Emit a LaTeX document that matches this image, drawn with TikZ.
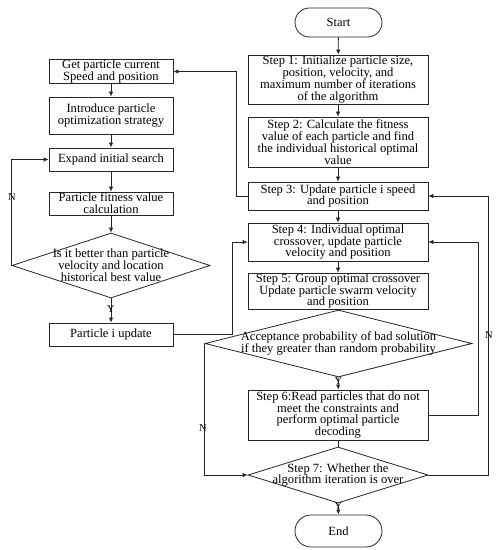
\documentclass[tikz,border=0pt]{standalone}
\usepackage{fontspec}
\setmainfont{Liberation Serif}
\usetikzlibrary{arrows.meta,shapes.geometric,shapes.misc}
\begin{document}
\begin{tikzpicture}[x=1bp,y=-1bp,
  every node/.style={font=\fontsize{12.6}{12}\selectfont, text=black},
  box/.style={draw=black!85, line width=0.8bp, rectangle, inner sep=0pt, align=center, minimum width=#1},
  box/.default=124bp,
  term/.style={draw=black!85, line width=0.8bp, rounded rectangle, inner sep=0pt, minimum width=87bp, minimum height=30bp},
  dia/.style={draw=black!85, line width=0.8bp, diamond, inner sep=0pt},
  txt/.style={align=center, inner sep=0pt},
  lab/.style={inner sep=0pt, font=\fontsize{10.5}{10}\selectfont},
  arr/.style={draw=black!85, line width=0.8bp, -{Latex[length=5bp,width=4.5bp]}},
  ln/.style={draw=black!85, line width=0.8bp}
]
\path[use as bounding box] (0,0) rectangle (498,550);

% Left column
\node[box, minimum height=23bp] (get) at (111,71.5) {Get particle current\\Speed and position};
\node[box, minimum height=37bp] (intro) at (111,115.5) {Introduce particle\\optimization strategy};
\node[box, minimum height=23bp] (expand) at (111,159.5) {Expand initial search};
\node[box, minimum height=23bp] (fit) at (111,203.5) {Particle fitness value\\calculation};
\node[dia, minimum width=198bp, minimum height=65bp] (d1) at (111,265.5) {};
\node[txt] (d1t) at (111,265.5) {Is it better than particle\\velocity and location\\historical best value};
\node[box, minimum height=23bp] (upd) at (111,334.5) {Particle i update};

% Right column
\node[term, minimum height=29bp] (start) at (338.5,22.5) {Start};
\node[box=180bp, minimum height=49bp] (s1) at (338,79.5) {Step 1: Initialize particle size,\\position, velocity, and\\maximum number of iterations\\of the algorithm};
\node[box=180bp, minimum height=50bp] (s2) at (338,142) {Step 2: Calculate the fitness\\value of each particle and find\\the individual historical optimal\\value};
\node[box=180bp, minimum height=28bp] (s3) at (338,196) {Step 3: Update particle i speed\\and position};
\node[box=180bp, minimum height=38bp] (s4) at (338,242) {Step 4: Individual optimal\\crossover, update particle\\velocity and position};
\node[box=180bp, minimum height=36bp] (s5) at (338,291) {Step 5: Group optimal crossover\\Update particle swarm velocity\\and position};
\node[dia, minimum width=267bp, minimum height=67bp] (d2) at (338.5,343.5) {};
\node[txt] (d2t) at (338.5,343.5) {Acceptance probability of bad solution\\if they greater than random probability};
\node[box=180bp, minimum height=50bp] (s6) at (338,415) {Step 6:Read particles that do not\\meet the constraints and\\perform optimal particle\\decoding};
\node[dia, minimum width=180bp, minimum height=56bp] (d3) at (338,475) {};
\node[txt] (d3t) at (338,475) {Step 7: Whether the\\algorithm iteration is over};
\node[term, minimum height=32bp] (end) at (338.5,531) {End};

% Left connectors
\draw[arr] (get) -- (intro);
\draw[arr] (intro) -- (expand);
\draw[arr] (expand) -- (fit);
\draw[arr] (fit) -- (d1);
\draw[arr] (d1) -- (upd);
\node[lab] (y1) at (111,309) {Y};
\draw[arr] (d1.west) -- (d1.west |- expand.west) -- (expand.west);
\node[lab] (n1) at (12,197) {N};
\coordinate (c1) at (232,334.5);
\draw[arr] (upd.east) -- (c1) -- (c1 |- s4.west) -- (s4.west);

% Right connectors
\draw[arr] (start) -- (s1);
\draw[arr] (s1) -- (s2);
\draw[arr] (s2) -- (s3);
\draw[arr] (s3) -- (s4);
\draw[arr] (s4) -- (s5);
\draw[ln] (s5) -- (d2);
\draw[arr] (d2) -- (s6);
\node[lab] (y2) at (338.5,381) {Y};
\draw[ln] (s6) -- (d3);
\draw[arr] (d3) -- (end);
\node[lab] (y3) at (338.5,506) {Y};

\coordinate (c2) at (236,196);
\draw[arr] (s3.west) -- (c2) -- (c2 |- get.east) -- (get.east);
\coordinate (c3) at (478,415);
\draw[arr] (s6.east) -- (c3) -- (c3 |- s4.east) -- (s4.east);
\coordinate (c4) at (488,475);
\draw[arr] (d3.east) -- (c4) -- (c4 |- s3.east) -- (s3.east);
\node[lab] (n2) at (489,335) {N};
\draw[arr] (d2.west) -- (d2.west |- d3.west) -- (d3.west);
\node[lab] (n3) at (203,428) {N};
\end{tikzpicture}
\end{document}
